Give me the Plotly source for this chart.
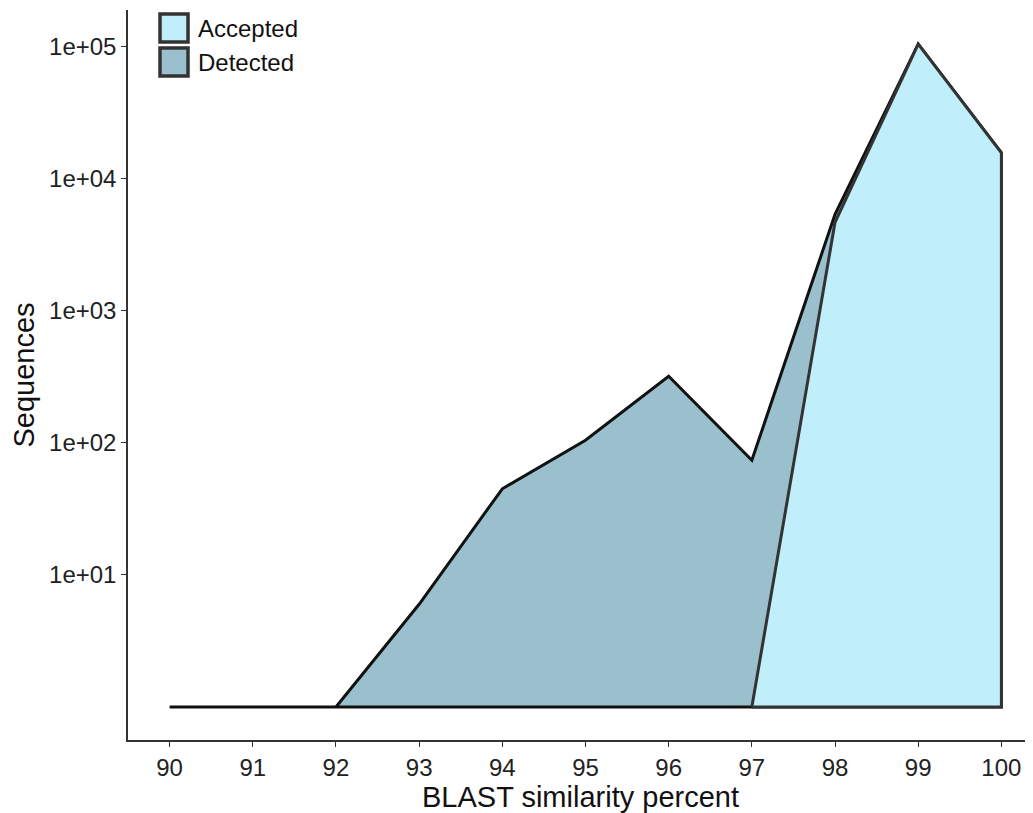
import plotly.graph_objects as go

similarity = [90, 91, 92, 93, 94, 95, 96, 97, 98, 99, 100]
detected = [1, 1, 1, 6, 45, 105, 320, 74, 5400, 105000, 15800]
accepted = [1, 1, 1, 1, 1, 1, 1, 1, 4700, 105000, 15800]
y_ticks = [10, 100, 1000, 10000, 100000]
y_tick_labels = ["1e+01", "1e+02", "1e+03", "1e+04", "1e+05"]
x_ticks = similarity
series_names = ["Accepted", "Detected"]
series_fill = ["#C1EEFB", "#9BC0CD"]

baseline = 1

# page has 8px body margin; plot area target in page px: x 128..1033, y 10..740
W, H = 1025, 805
ML, MR, MT, MB = 120, 0, 2, 73
PX0, PY0 = 8 + ML, 8 + MT
PW, PH = W - ML - MR, H - MT - MB


def paper_x(px):
    return (px - PX0) / PW


def paper_y(py):
    return 1 - (py - PY0) / PH


def polygon(xs, ys, start):
    px = xs[start:] + [xs[-1], xs[start]]
    py = ys[start:] + [baseline, baseline]
    return px, py


fig = go.Figure()

dx, dy = polygon(similarity, detected, 0)
fig.add_trace(go.Scatter(
    x=dx, y=dy, fill="toself", mode="lines", name="Detected",
    fillcolor=series_fill[1], line=dict(color="#111111", width=3),
    showlegend=False,
))
ax, ay = polygon(similarity, accepted, 7)
fig.add_trace(go.Scatter(
    x=ax, y=ay, fill="toself", mode="lines", name="Accepted",
    fillcolor=series_fill[0], line=dict(color="#333333", width=3),
    showlegend=False,
))

# legend drawn as boxes + labels
shapes = []
annotations = []
for i, (name, col) in enumerate(zip(series_names, series_fill)):
    top = 14 + i * 34
    shapes.append(dict(
        type="rect", xref="paper", yref="paper",
        x0=paper_x(160), x1=paper_x(188), y0=paper_y(top + 28), y1=paper_y(top),
        fillcolor=col, line=dict(color="#333333", width=3.5), layer="above",
    ))
    annotations.append(dict(
        xref="paper", yref="paper", x=paper_x(196), y=paper_y(top + 14),
        xanchor="left", yanchor="middle", text=name, showarrow=False,
        font=dict(size=24, color="#111111"),
    ))

fig.update_layout(
    width=W, height=H,
    paper_bgcolor="white", plot_bgcolor="white",
    margin=dict(l=ML, r=MR, t=MT, b=MB, autoexpand=False),
    font=dict(family="Liberation Sans, Arial, sans-serif", size=24, color="#222222"),
    showlegend=False,
    shapes=shapes,
    annotations=annotations,
    xaxis=dict(
        range=[89.5, 100.38], tickvals=x_ticks, ticktext=[str(v) for v in x_ticks],
        showline=True, linecolor="#333333", linewidth=1.5, ticks="outside",
        ticklen=5, tickcolor="#333333", showgrid=False, zeroline=False,
        title=dict(text="BLAST similarity percent", font=dict(size=29, color="#111111"), standoff=2),
        tickfont=dict(size=24, color="#222222"), automargin=False,
    ),
    yaxis=dict(
        type="log", range=[-0.25, 5.28], tickvals=y_ticks, ticktext=y_tick_labels,
        showline=True, linecolor="#333333", linewidth=1.5, ticks="outside",
        ticklen=5, tickcolor="#333333", showgrid=False, zeroline=False,
        title=dict(text="Sequences", font=dict(size=29, color="#111111"), standoff=6),
        tickfont=dict(size=24, color="#222222"), automargin=False,
    ),
)

fig.write_html("out.html")
